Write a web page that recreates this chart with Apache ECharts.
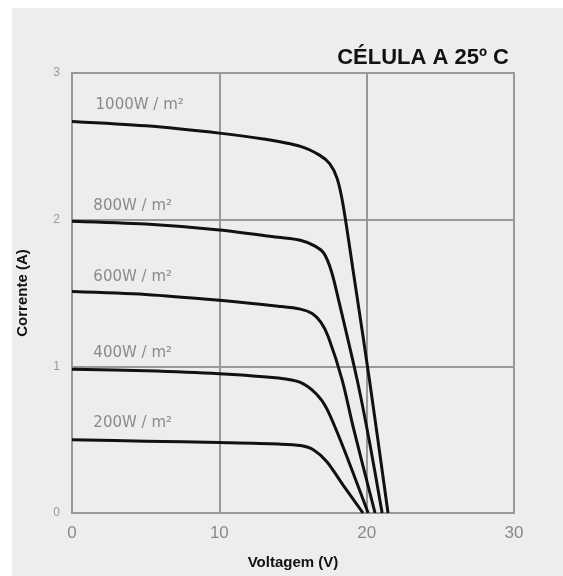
<!DOCTYPE html>
<html>
<head>
<meta charset="utf-8">
<script src="https://cdn.jsdelivr.net/npm/echarts@6/dist/echarts.min.js"></script>
<style>html,body{margin:0;padding:0;background:#fff}#c{width:563px;height:576px}</style>
</head>
<body>
<div id="c"></div>
<script>
var titleText = 'CÉLULA A 25º C';
var xName = 'Voltagem (V)';
var yName = 'Corrente (A)';
var xTicks = [0, 10, 20, 30];
var yTicks = [0, 1, 2, 3];
var seriesNames = ['1000W / m²', '800W / m²', '600W / m²', '400W / m²', '200W / m²'];
var labelPos = [[1.6, 2.78], [1.45, 2.09], [1.45, 1.61], [1.45, 1.09], [1.45, 0.61]];

var curve1000 = [[0,2.67],[5,2.64],[10,2.59],[13,2.55],[15.5,2.50],[16.8,2.44],[17.5,2.38],[18.0,2.28],[18.4,2.10],[19.1,1.64],[20.2,0.90],[21.45,0]];
var curve800 = [[0,1.99],[5,1.97],[10,1.93],[14,1.88],[15.5,1.86],[16.5,1.82],[17.1,1.77],[17.6,1.65],[18.1,1.45],[19.35,0.91],[20.2,0.48],[21.05,0]];
var curve600 = [[0,1.51],[5,1.49],[10,1.45],[14,1.41],[15.5,1.39],[16.3,1.36],[16.9,1.30],[17.4,1.20],[18.33,0.91],[19.1,0.58],[20.57,0]];
var curve400 = [[0,0.98],[5,0.97],[10,0.95],[14,0.92],[15.5,0.89],[16.6,0.81],[17.3,0.71],[18.4,0.45],[20.1,0]];
var curve200 = [[0,0.50],[5,0.49],[10,0.48],[14,0.47],[15.5,0.46],[16.4,0.43],[17.3,0.35],[18.4,0.19],[19.75,0]];
var curves = [curve1000, curve800, curve600, curve400, curve200];

var chart = echarts.init(document.getElementById('c'));
var series = curves.map(function (d, i) {
  return {
    type: 'line', name: seriesNames[i], data: d, smooth: 0.3, showSymbol: false,
    lineStyle: { color: '#111', width: 3 },
    markPoint: {
      symbol: 'circle', symbolSize: 0,
      data: [{ coord: labelPos[i], value: seriesNames[i] }],
      label: { show: true, position: 'right', distance: 0, formatter: seriesNames[i], color: '#8a8a8a', fontSize: 15, fontFamily: 'DejaVu Sans' }
    }
  };
});
chart.setOption({
  animation: false,
  backgroundColor: '#fff',
  graphic: [{ type: 'rect', z: -10, shape: { x: 12, y: 8, width: 551, height: 568 }, style: { fill: '#ededed' } }],
  title: { text: titleText, right: 49, top: 42, textStyle: { fontSize: 22, fontWeight: 'bold', color: '#111', fontFamily: 'Liberation Sans' } },
  grid: { left: 72, right: 49, top: 73, bottom: 63, show: true, borderColor: '#999', borderWidth: 2, backgroundColor: 'transparent', outerBoundsMode: 'none', containLabel: false },
  xAxis: {
    type: 'value', min: 0, max: 30, interval: 10,
    name: xName, nameLocation: 'middle', nameGap: 42,
    nameTextStyle: { fontSize: 15, fontWeight: 'bold', color: '#111', fontFamily: 'Liberation Sans' },
    axisLine: { show: false }, axisTick: { show: false },
    axisLabel: { color: '#888', fontSize: 17, margin: 12, fontFamily: 'Liberation Sans', formatter: function (v) { return xTicks.indexOf(v) >= 0 ? v : ''; } },
    splitLine: { show: true, lineStyle: { color: '#999', width: 2 } }
  },
  yAxis: {
    type: 'value', min: 0, max: 3, interval: 1,
    name: yName, nameLocation: 'middle', nameGap: 42, nameRotate: 90,
    nameTextStyle: { fontSize: 15, fontWeight: 'bold', color: '#111', fontFamily: 'Liberation Sans' },
    axisLine: { show: false }, axisTick: { show: false },
    axisLabel: { color: '#999', fontSize: 12, margin: 12, fontFamily: 'Liberation Sans', formatter: function (v) { return yTicks.indexOf(v) >= 0 ? v : ''; } },
    splitLine: { show: true, lineStyle: { color: '#999', width: 2 } }
  },
  series: series
});
</script>
</body>
</html>
